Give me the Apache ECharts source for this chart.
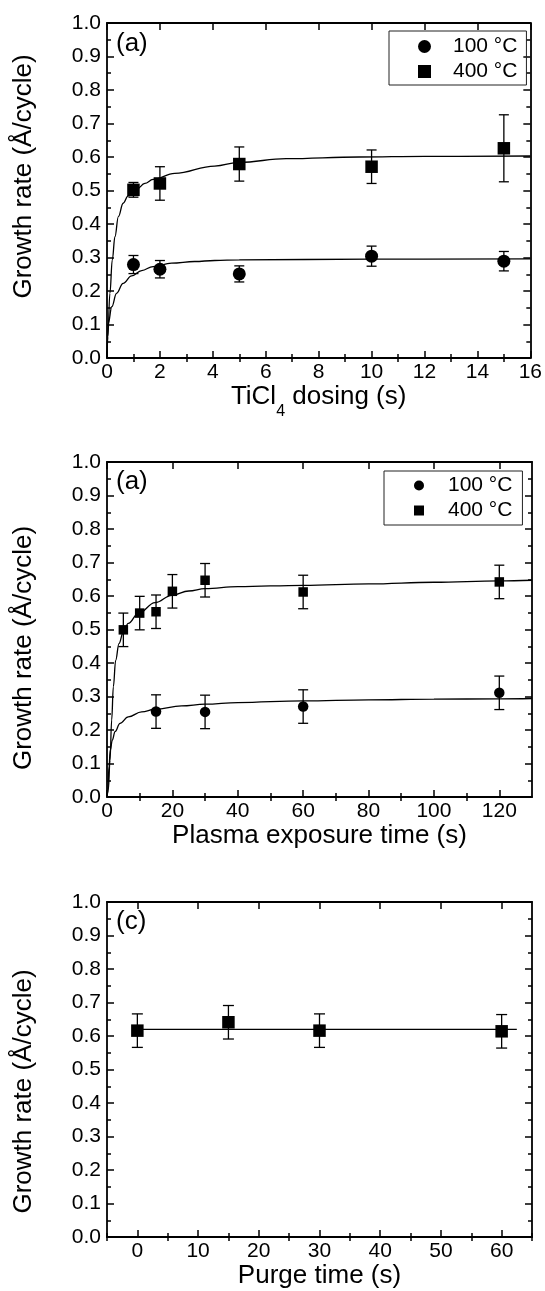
<!DOCTYPE html>
<html><head><meta charset="utf-8">
<script src="https://cdn.jsdelivr.net/npm/echarts@6/dist/echarts.min.js"></script>
<style>html,body{margin:0;padding:0;background:#fff}#c{width:545px;height:1291px}</style>
</head><body><div id="c"></div>
<script>
// ---------- Panel 1: TiCl4 dosing ----------
const dosingX = [1, 2, 5, 10, 15];
const dosing100 = [0.279, 0.265, 0.251, 0.304, 0.289];
const dosing100Err = [0.027, 0.026, 0.024, 0.030, 0.029];
const dosing400 = [0.502, 0.521, 0.579, 0.571, 0.626];
const dosing400Err = [0.022, 0.050, 0.051, 0.050, 0.100];
// fit curves [x, y]
const dosingFit400 = [[0.0,0.0],[0.03,0.064],[0.11,0.193],[0.2,0.293],[0.3,0.362],[0.43,0.422],[0.61,0.462],[0.8,0.484],[1.12,0.504],[1.43,0.521],[1.74,0.533],[2.56,0.551],[4.07,0.573],[5.0,0.584],[6.77,0.595],[9.53,0.600],[12.0,0.602],[16.0,0.603]];
const dosingFit100 = [[0.0,0.0],[0.02,0.06],[0.05,0.104],[0.18,0.153],[0.36,0.193],[0.61,0.223],[0.93,0.245],[1.31,0.261],[1.74,0.273],[2.44,0.283],[3.31,0.288],[4.07,0.291],[5.0,0.293],[10.0,0.295],[16.0,0.296]];
const dosingTicks = [0, 2, 4, 6, 8, 10, 12, 14, 16];
const dosingMinor = [1, 3, 5, 7, 9, 11, 13, 15];

// ---------- Panel 2: plasma exposure ----------
const plasmaX100 = [15, 30, 60, 120];
const plasma100 = [0.255, 0.254, 0.270, 0.311];
const plasma100Err = [0.050, 0.050, 0.050, 0.050];
const plasmaX400 = [5, 10, 15, 20, 30, 60, 120];
const plasma400 = [0.499, 0.549, 0.553, 0.614, 0.647, 0.612, 0.642];
const plasma400Err = [0.050, 0.050, 0.050, 0.050, 0.050, 0.050, 0.050];
const plasmaFit400 = [[0.0,0.0],[0.4,0.021],[0.92,0.11],[1.43,0.23],[1.94,0.329],[2.65,0.408],[3.67,0.458],[5.0,0.493],[6.5,0.518],[9.6,0.548],[14.7,0.58],[19.8,0.602],[25.0,0.615],[30.0,0.622],[40.0,0.628],[60.0,0.632],[80.0,0.636],[100.0,0.641],[120.0,0.645],[130.0,0.647]];
const plasmaFit100 = [[0.0,0.0],[0.2,0.011],[0.61,0.09],[1.0,0.14],[1.63,0.17],[2.45,0.195],[3.98,0.22],[6.5,0.239],[10.6,0.254],[14.7,0.262],[22.8,0.272],[30.0,0.277],[40.0,0.282],[60.0,0.287],[80.0,0.290],[100.0,0.292],[120.0,0.293],[130.0,0.294]];
const plasmaTicks = [0, 20, 40, 60, 80, 100, 120];
const plasmaMinor = [10, 30, 50, 70, 90, 110];

// ---------- Panel 3: purge time ----------
const purgeX = [0, 15, 30, 60];
const purge400 = [0.616, 0.641, 0.616, 0.614];
const purge400Err = [0.050, 0.050, 0.050, 0.050];
const purgeFit = [[-0.6, 0.620], [62.5, 0.620]];
const purgeTicks = [0, 10, 20, 30, 40, 50, 60];
const purgeMinor = [-5, 5, 15, 25, 35, 45, 55, 65];

const yTicksInterval = 0.1;
const seriesNames = ['100 °C', '400 °C'];

const FONT = '"Liberation Sans", Arial, Helvetica, sans-serif';
const BLACK = '#000';

const grids = [
  {left: 107, top: 23, width: 425, height: 335},
  {left: 107, top: 462, width: 425, height: 335},
  {left: 107, top: 902, width: 425, height: 335}
];

const axisLineStyle = {color: BLACK, width: 1.8};
const tickLineStyle = {color: BLACK, width: 1.5};

function xAxesFor(gi, min, max, majors, minors, name, nameStyle) {
  const base = {gridIndex: gi, type: 'value', min: min, max: max, splitLine: {show: false}};
  return [
    Object.assign({}, base, {
      position: 'bottom',
      axisLine: {show: true, onZero: false, lineStyle: axisLineStyle},
      axisTick: {show: true, inside: true, length: 7, customValues: majors, lineStyle: tickLineStyle},
      axisLabel: {show: true, customValues: majors, fontSize: 21, fontFamily: FONT, color: BLACK, margin: 4},
      name: name, nameLocation: 'middle', nameGap: 25,
      nameTextStyle: Object.assign({fontSize: 26, fontFamily: FONT, color: BLACK}, nameStyle || {})
    }),
    Object.assign({}, base, {
      position: 'bottom',
      axisLine: {show: false},
      axisTick: {show: true, inside: true, length: 4, customValues: minors, lineStyle: tickLineStyle},
      axisLabel: {show: false}
    }),
    Object.assign({}, base, {
      position: 'top',
      axisLine: {show: true, onZero: false, lineStyle: axisLineStyle},
      axisTick: {show: true, inside: true, length: 7, customValues: majors, lineStyle: tickLineStyle},
      axisLabel: {show: false}
    }),
    Object.assign({}, base, {
      position: 'top',
      axisLine: {show: false},
      axisTick: {show: true, inside: true, length: 4, customValues: minors, lineStyle: tickLineStyle},
      axisLabel: {show: false}
    })
  ];
}

function yAxesFor(gi, padding) {
  const base = {
    gridIndex: gi, type: 'value', min: 0, max: 1, interval: yTicksInterval,
    splitLine: {show: false},
    axisLine: {show: true, onZero: false, lineStyle: axisLineStyle},
    axisTick: {show: true, inside: true, length: 7, lineStyle: tickLineStyle},
    minorTick: {show: true, splitNumber: 2, length: 4, lineStyle: tickLineStyle}
  };
  return [
    Object.assign({}, base, {
      position: 'left',
      axisLabel: {show: true, fontSize: 21, fontFamily: FONT, color: BLACK, margin: 6,
        formatter: v => v.toFixed(1)},
      name: 'Growth rate (Å/cycle)', nameLocation: 'middle', nameGap: 70,
      nameTextStyle: {fontSize: 26, fontFamily: FONT, color: BLACK, padding: padding}
    }),
    Object.assign({}, base, {position: 'right', axisLabel: {show: false}})
  ];
}

const xAxes = [].concat(
  xAxesFor(0, 0, 16, dosingTicks, dosingMinor, '{m|TiCl}{s|4}{m| dosing (s)}', {
    rich: {
      m: {fontSize: 26, fontFamily: FONT, color: BLACK, verticalAlign: 'top', lineHeight: 26},
      s: {fontSize: 16, fontFamily: FONT, color: BLACK, verticalAlign: 'top', lineHeight: 16, padding: [20, 0, 0, 0]}
    }
  }),
  xAxesFor(1, 0, 130, plasmaTicks, plasmaMinor, 'Plasma exposure time (s)'),
  xAxesFor(2, -5, 65, purgeTicks, purgeMinor, 'Purge time (s)')
);
const yAxes = [].concat(
  yAxesFor(0, [0, 0, 0, 28]),
  yAxesFor(1, [0, 37, 0, 0]),
  yAxesFor(2, [0, 44, 0, 0])
);

function errSeries(gi, xs, ys, es, cap) {
  return {
    type: 'custom', xAxisIndex: 4 * gi, yAxisIndex: 2 * gi, z: 3, silent: true,
    encode: {x: 0, y: 1},
    data: xs.map((x, i) => [x, ys[i], es[i]]),
    renderItem: function (params, api) {
      const x = api.value(0), y = api.value(1), e = api.value(2);
      const t = api.coord([x, y + e]), b = api.coord([x, y - e]);
      const h = cap / 2;
      const st = {stroke: BLACK, lineWidth: 1.3};
      return {type: 'group', children: [
        {type: 'line', shape: {x1: t[0], y1: t[1], x2: b[0], y2: b[1]}, style: st},
        {type: 'line', shape: {x1: t[0] - h, y1: t[1], x2: t[0] + h, y2: t[1]}, style: st},
        {type: 'line', shape: {x1: b[0] - h, y1: b[1], x2: b[0] + h, y2: b[1]}, style: st}
      ]};
    }
  };
}
function pts(gi, name, symbol, size, xs, ys) {
  return {
    type: 'scatter', name: name, xAxisIndex: 4 * gi, yAxisIndex: 2 * gi, z: 5,
    symbol: symbol, symbolSize: size, itemStyle: {color: BLACK, opacity: 1},
    data: xs.map((x, i) => [x, ys[i]])
  };
}
function fit(gi, data) {
  return {
    type: 'line', xAxisIndex: 4 * gi, yAxisIndex: 2 * gi, z: 4, silent: true,
    showSymbol: false, symbol: 'none', smooth: 0.4, smoothMonotone: 'x',
    lineStyle: {color: BLACK, width: 1.3}, data: data
  };
}

const series = [
  fit(0, dosingFit400), fit(0, dosingFit100),
  errSeries(0, dosingX, dosing100, dosing100Err, 10),
  errSeries(0, dosingX, dosing400, dosing400Err, 10),
  pts(0, seriesNames[0], 'circle', 13, dosingX, dosing100),
  pts(0, seriesNames[1], 'rect', 12.5, dosingX, dosing400),

  fit(1, plasmaFit400), fit(1, plasmaFit100),
  errSeries(1, plasmaX100, plasma100, plasma100Err, 10),
  errSeries(1, plasmaX400, plasma400, plasma400Err, 10),
  pts(1, seriesNames[0], 'circle', 10.5, plasmaX100, plasma100),
  pts(1, seriesNames[1], 'rect', 9.5, plasmaX400, plasma400),

  fit(2, purgeFit),
  errSeries(2, purgeX, purge400, purge400Err, 11),
  pts(2, seriesNames[1] + ' ', 'rect', 12.5, purgeX, purge400)
];

function legendFor(left, top, icon, padding, textPad) {
  return {
    data: seriesNames, orient: 'vertical', left: left, top: top,
    padding: padding, itemGap: 4, itemWidth: icon, itemHeight: icon,
    borderColor: '#222', borderWidth: 1, borderRadius: 0,
    selectedMode: false,
    textStyle: {fontSize: 21, fontFamily: FONT, color: BLACK, lineHeight: 21, padding: [0, 0, 0, textPad]}
  };
}

const option = {
  animation: false,
  backgroundColor: '#fff',
  grid: grids,
  xAxis: xAxes,
  yAxis: yAxes,
  title: [
    {text: '(a)', left: 116, top: 31, padding: 0, textStyle: {fontSize: 26, fontWeight: 'normal', fontFamily: FONT, color: BLACK}},
    {text: '(a)', left: 116, top: 469, padding: 0, textStyle: {fontSize: 26, fontWeight: 'normal', fontFamily: FONT, color: BLACK}},
    {text: '(c)', left: 116, top: 909, padding: 0, textStyle: {fontSize: 26, fontWeight: 'normal', fontFamily: FONT, color: BLACK}}
  ],
  legend: [
    legendFor(389, 31, 13, [5, 9, 3, 29], 17),
    legendFor(384, 471, 10, [4, 10, 4, 30], 19)
  ],
  series: series
};

const chart = echarts.init(document.getElementById('c'), null, {renderer: 'canvas'});
chart.setOption(option);
</script>
</body></html>
